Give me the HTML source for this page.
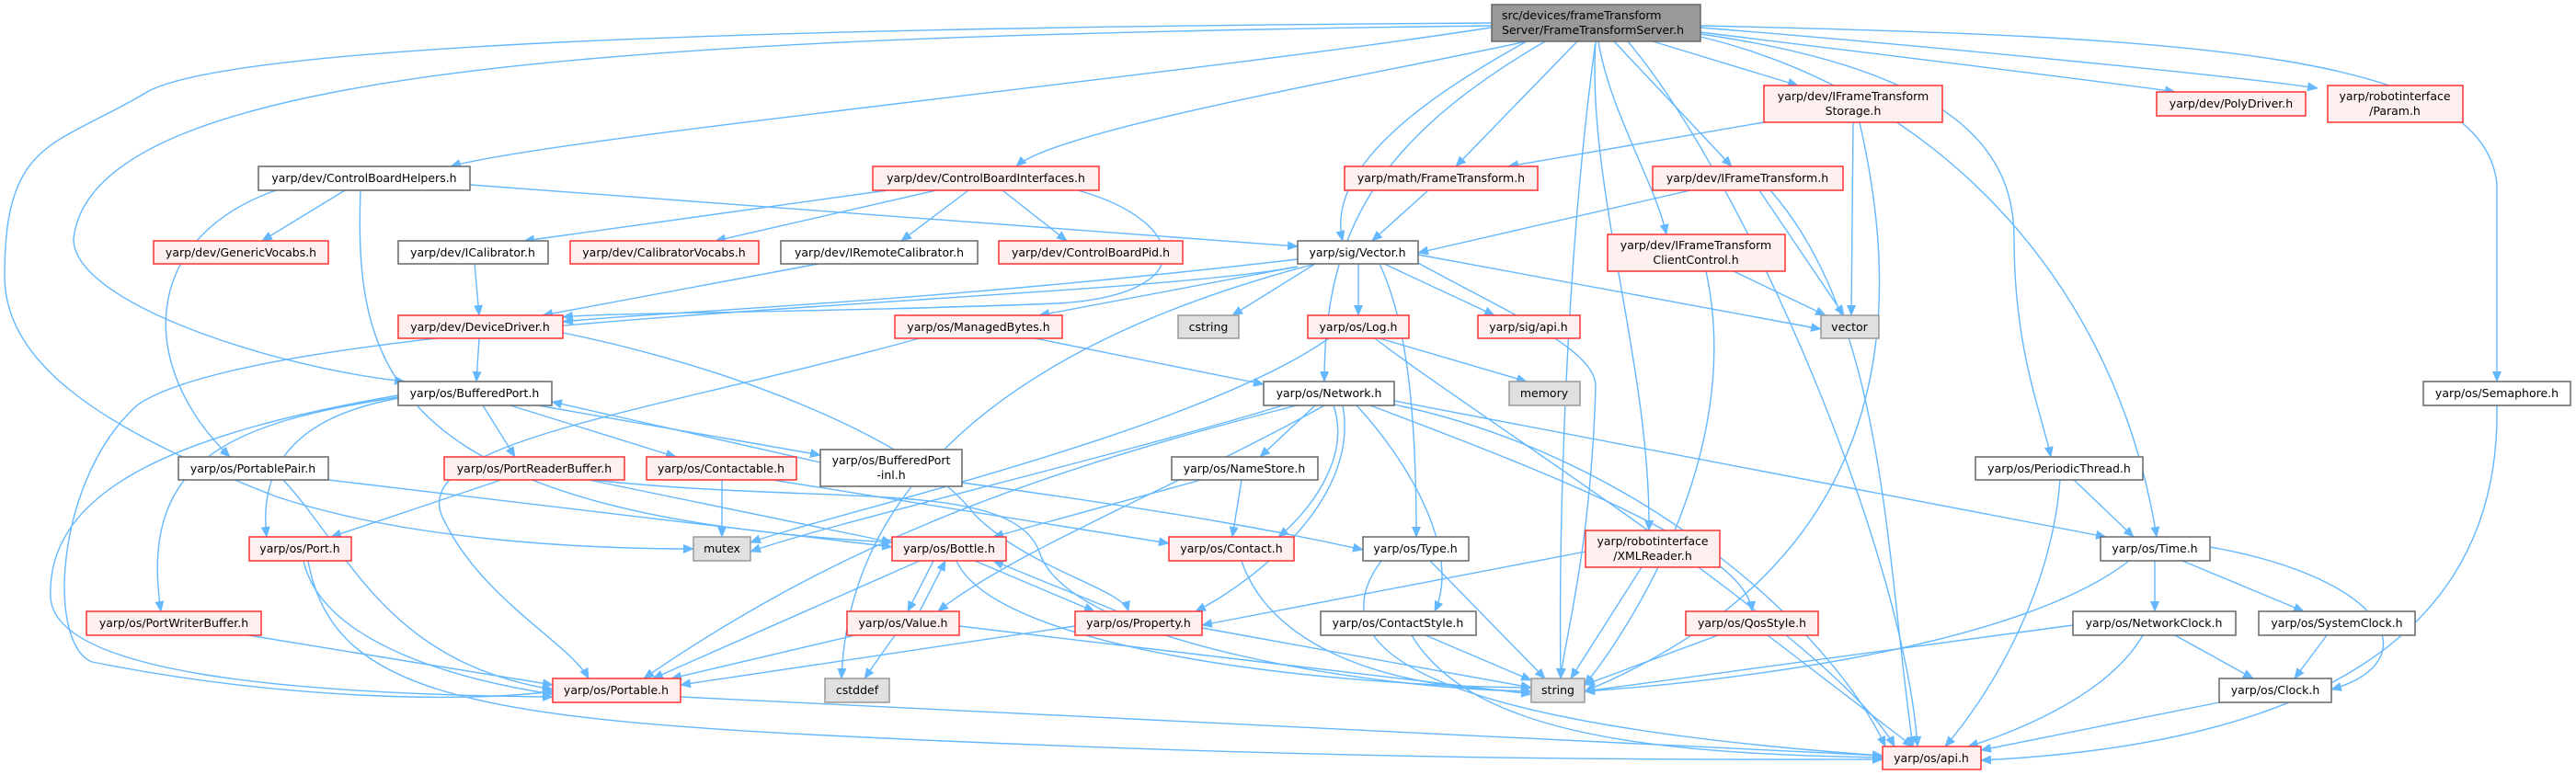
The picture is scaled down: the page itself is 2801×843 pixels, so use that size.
<!DOCTYPE html>
<html><head><meta charset="utf-8"><style>
html,body{margin:0;padding:0;background:#fff;}
svg{display:block;}
text{font-family:"DejaVu Sans","Liberation Sans",sans-serif;font-size:12.5px;fill:#000;}
.e{fill:none;stroke:#63b8ff;stroke-width:1.4;}
.r{fill:#fff0f0;stroke:#ff3030;stroke-width:1.5;}
.w{fill:#fff;stroke:#666;stroke-width:1.5;}
.g{fill:#e0e0e0;stroke:#999;stroke-width:1.5;}
.m{fill:#999;stroke:#666;stroke-width:1.5;}
</style></head><body>
<svg width="2801" height="843" viewBox="0 0 2801 843" xmlns="http://www.w3.org/2000/svg">
<defs><marker id="a" markerWidth="12" markerHeight="10" refX="11" refY="5" orient="auto" markerUnits="userSpaceOnUse"><path d="M0,0 L12,5 L0,10 z" fill="#63b8ff"/></marker></defs>
<g class="e" marker-end="url(#a)">
<path d="M1621,30 C1300,80 600,150 490,181"/>
<path d="M1660,45 C1500,80 1150,140 1105,181"/>
<path d="M1621,28 C700,40 100,70 80,260 C80,330 300,400 440,415"/>
<path d="M1621,25 C800,30 250,50 160,100 C60,160 5,150 5,300 C5,400 120,470 300,540 C450,590 650,597 754,597"/>
<path d="M1660,45 C1560,100 1440,180 1460,262"/>
<path d="M1715,45 L1583,181"/>
<path d="M1680,45 C1500,150 1440,250 1440,415"/>
<path d="M1797,45 L1955,93"/>
<path d="M1755,45 L1883,181"/>
<path d="M1738,45 C1750,120 1800,200 1812,255"/>
<path d="M1735,45 C1725,200 1795,400 1793,577"/>
<path d="M1849,35 C2050,60 2300,90 2365,100"/>
<path d="M1849,30 C2100,50 2450,85 2520,96"/>
<path d="M1849,37 C2150,80 2190,180 2190,260 C2190,380 2220,450 2230,497"/>
<path d="M1849,40 C2100,100 2300,300 2345,584"/>
<path d="M1849,28 C2400,40 2700,60 2715,200 L2715,415"/>
<path d="M1735,45 C1700,300 1695,600 1697,738"/>
<path d="M1770,45 C1900,200 2070,600 2085,812"/>
<path d="M1918,133 L1640,181"/>
<path d="M2015,133 L2013,343"/>
<path d="M2022,133 C2060,300 2090,600 1723,752"/>
<path d="M1553,207 L1492,262"/>
<path d="M1838,207 L1542,275"/>
<path d="M1913,207 L2005,343"/>
<path d="M1925,207 C2050,350 2050,600 2080,812"/>
<path d="M1885,295 L1985,343"/>
<path d="M1855,295 C1900,500 1760,700 1723,745"/>
<path d="M375,207 L285,262"/>
<path d="M300,207 C150,260 150,400 250,497"/>
<path d="M392,207 C385,400 420,560 970,590"/>
<path d="M511,201 L1411,268"/>
<path d="M965,207 L570,262"/>
<path d="M1018,207 L778,262"/>
<path d="M1053,207 L980,262"/>
<path d="M1090,207 L1160,262"/>
<path d="M1172,207 C1290,240 1310,320 1150,330 C900,340 650,340 612,345"/>
<path d="M516,287 L521,343"/>
<path d="M890,287 L590,343"/>
<path d="M521,368 L518,415"/>
<path d="M612,362 C800,400 1000,480 1060,560 C1120,620 1220,640 1227,665"/>
<path d="M1411,282 C1000,330 700,340 612,350"/>
<path d="M1411,290 L1130,343"/>
<path d="M1430,287 L1340,343"/>
<path d="M1477,287 L1477,343"/>
<path d="M1505,287 L1625,343"/>
<path d="M1542,277 L1980,358"/>
<path d="M1540,285 C1640,340 1735,380 1735,420 C1730,600 1700,700 1697,738"/>
<path d="M1411,290 C1200,330 300,340 150,440 C60,520 50,700 100,720 C300,760 500,765 601,752"/>
<path d="M1500,287 C1530,350 1540,450 1540,584"/>
<path d="M1430,287 C1000,400 920,600 915,738"/>
<path d="M1125,368 L1374,418"/>
<path d="M1000,368 C700,450 450,480 480,560 C520,650 620,700 640,738"/>
<path d="M1500,368 L1660,415"/>
<path d="M1495,368 C1600,450 2000,700 2060,812"/>
<path d="M1445,368 C1300,470 900,560 816,590"/>
<path d="M440,432 C330,450 280,500 290,584"/>
<path d="M525,441 L560,497"/>
<path d="M555,441 L735,497"/>
<path d="M585,441 L892,495"/>
<path d="M892,503 L600,437"/>
<path d="M433,432 C250,460 150,500 175,665"/>
<path d="M433,430 C200,470 50,530 55,650 C60,730 300,755 601,758"/>
<path d="M1046,525 C1300,560 1400,580 1482,598"/>
<path d="M357,522 L970,595"/>
<path d="M308,522 C380,600 420,720 601,750"/>
<path d="M545,522 L360,584"/>
<path d="M640,522 L970,590"/>
<path d="M645,522 C900,550 1100,520 1130,600 C1160,700 1500,750 1665,752"/>
<path d="M785,522 L785,584"/>
<path d="M840,522 L1271,591"/>
<path d="M330,610 C350,700 500,740 601,755"/>
<path d="M335,610 C360,750 500,780 900,800 C1500,830 1900,826 2047,826"/>
<path d="M1306,522 L1080,584"/>
<path d="M1350,522 L1340,584"/>
<path d="M1430,441 L1370,497"/>
<path d="M1450,441 C1470,500 1420,560 1390,584"/>
<path d="M1440,441 C1300,520 1100,600 1020,665"/>
<path d="M1460,441 C1480,550 1350,640 1300,665"/>
<path d="M1410,441 C1100,520 900,600 700,738"/>
<path d="M1475,441 C1530,500 1590,600 1560,665"/>
<path d="M1490,441 C1700,520 1900,600 1905,665"/>
<path d="M1516,436 L2290,584"/>
<path d="M1516,440 C1800,500 2000,700 2050,812"/>
<path d="M1395,441 C1200,500 900,570 816,600"/>
<path d="M1015,610 L987,665"/>
<path d="M1000,665 L1028,610"/>
<path d="M1060,610 L1190,665"/>
<path d="M1215,665 L1080,610"/>
<path d="M1000,610 L710,738"/>
<path d="M1040,610 C1080,700 1400,745 1665,748"/>
<path d="M930,691 L730,738"/>
<path d="M973,691 L940,738"/>
<path d="M1043,681 L1665,755"/>
<path d="M1169,681 L740,745"/>
<path d="M1307,683 L1665,748"/>
<path d="M1350,610 C1380,700 1500,750 1665,752"/>
<path d="M1555,610 L1680,738"/>
<path d="M1502,610 C1420,720 1600,790 2047,822"/>
<path d="M1724,600 L1307,680"/>
<path d="M1785,617 L1708,738"/>
<path d="M1550,691 L1665,740"/>
<path d="M1535,691 C1600,800 1800,820 2047,824"/>
<path d="M1868,691 L1723,745"/>
<path d="M1922,691 L2080,812"/>
<path d="M2255,522 L2320,584"/>
<path d="M2240,522 C2230,650 2160,760 2115,812"/>
<path d="M2315,610 C2200,700 1900,740 1723,752"/>
<path d="M2343,610 L2343,665"/>
<path d="M2373,610 L2505,665"/>
<path d="M2403,595 C2600,630 2640,720 2535,750"/>
<path d="M2254,680 L1723,752"/>
<path d="M2365,691 L2450,738"/>
<path d="M2330,691 C2290,760 2180,800 2140,812"/>
<path d="M2530,691 L2495,738"/>
<path d="M2413,764 L2154,816"/>
<path d="M270,691 L601,745"/>
<path d="M740,758 L2047,822"/>
<path d="M2715,441 C2720,700 2500,810 2154,827"/>
</g>
<g text-anchor="middle">
<rect class="m" x="1622" y="5" width="227" height="40"/>
<text x="1633" y="21" text-anchor="start">src/devices/frameTransform</text>
<text x="1633" y="37" text-anchor="start">Server/FrameTransformServer.h</text>

<rect class="w" x="281" y="181" width="230" height="26"/><text x="396" y="198">yarp/dev/ControlBoardHelpers.h</text>
<rect class="r" x="949" y="181" width="246" height="26"/><text x="1072" y="198">yarp/dev/ControlBoardInterfaces.h</text>
<rect class="r" x="1462" y="181" width="210" height="26"/><text x="1567" y="198">yarp/math/FrameTransform.h</text>
<rect class="r" x="1797" y="181" width="207" height="26"/><text x="1900" y="198">yarp/dev/IFrameTransform.h</text>
<rect class="r" x="1918" y="93" width="194" height="40"/><text x="2015" y="109">yarp/dev/IFrameTransform</text><text x="2015" y="125">Storage.h</text>
<rect class="r" x="2345" y="100" width="162" height="26"/><text x="2426" y="117">yarp/dev/PolyDriver.h</text>
<rect class="r" x="2531" y="93" width="147" height="40"/><text x="2604" y="109">yarp/robotinterface</text><text x="2604" y="125">/Param.h</text>

<rect class="r" x="167" y="262" width="190" height="25"/><text x="262" y="279">yarp/dev/GenericVocabs.h</text>
<rect class="w" x="433" y="262" width="163" height="25"/><text x="514" y="279">yarp/dev/ICalibrator.h</text>
<rect class="r" x="620" y="262" width="205" height="25"/><text x="722" y="279">yarp/dev/CalibratorVocabs.h</text>
<rect class="w" x="849" y="262" width="214" height="25"/><text x="956" y="279">yarp/dev/IRemoteCalibrator.h</text>
<rect class="r" x="1086" y="262" width="200" height="25"/><text x="1186" y="279">yarp/dev/ControlBoardPid.h</text>
<rect class="w" x="1411" y="262" width="131" height="25"/><text x="1476" y="279">yarp/sig/Vector.h</text>
<rect class="r" x="1748" y="255" width="193" height="40"/><text x="1844" y="271">yarp/dev/IFrameTransform</text><text x="1844" y="287">ClientControl.h</text>

<rect class="r" x="433" y="343" width="179" height="25"/><text x="522" y="360">yarp/dev/DeviceDriver.h</text>
<rect class="r" x="973" y="343" width="182" height="25"/><text x="1064" y="360">yarp/os/ManagedBytes.h</text>
<rect class="g" x="1281" y="343" width="66" height="25"/><text x="1314" y="360">cstring</text>
<rect class="r" x="1422" y="343" width="110" height="25"/><text x="1477" y="360">yarp/os/Log.h</text>
<rect class="r" x="1607" y="343" width="111" height="25"/><text x="1662" y="360">yarp/sig/api.h</text>
<rect class="g" x="1980" y="343" width="63" height="25"/><text x="2011" y="360">vector</text>

<rect class="w" x="433" y="415" width="167" height="26"/><text x="516" y="432">yarp/os/BufferedPort.h</text>
<rect class="w" x="1374" y="415" width="142" height="26"/><text x="1445" y="432">yarp/os/Network.h</text>
<rect class="g" x="1641" y="415" width="77" height="26"/><text x="1679" y="432">memory</text>
<rect class="w" x="2635" y="415" width="160" height="26"/><text x="2715" y="432">yarp/os/Semaphore.h</text>

<rect class="w" x="194" y="497" width="163" height="25"/><text x="275" y="514">yarp/os/PortablePair.h</text>
<rect class="r" x="483" y="497" width="196" height="25"/><text x="581" y="514">yarp/os/PortReaderBuffer.h</text>
<rect class="r" x="703" y="497" width="163" height="25"/><text x="784" y="514">yarp/os/Contactable.h</text>
<rect class="w" x="892" y="489" width="154" height="40"/><text x="969" y="505">yarp/os/BufferedPort</text><text x="969" y="521">-inl.h</text>
<rect class="w" x="1274" y="497" width="159" height="25"/><text x="1353" y="514">yarp/os/NameStore.h</text>
<rect class="w" x="2148" y="497" width="182" height="25"/><text x="2239" y="514">yarp/os/PeriodicThread.h</text>

<rect class="r" x="271" y="584" width="111" height="26"/><text x="326" y="601">yarp/os/Port.h</text>
<rect class="g" x="754" y="584" width="62" height="26"/><text x="785" y="601">mutex</text>
<rect class="r" x="970" y="584" width="124" height="26"/><text x="1032" y="601">yarp/os/Bottle.h</text>
<rect class="r" x="1271" y="584" width="136" height="26"/><text x="1339" y="601">yarp/os/Contact.h</text>
<rect class="w" x="1482" y="584" width="115" height="26"/><text x="1539" y="601">yarp/os/Type.h</text>
<rect class="r" x="1724" y="577" width="146" height="40"/><text x="1797" y="593">yarp/robotinterface</text><text x="1797" y="609">/XMLReader.h</text>
<rect class="w" x="2284" y="584" width="119" height="26"/><text x="2343" y="601">yarp/os/Time.h</text>

<rect class="r" x="94" y="665" width="190" height="26"/><text x="189" y="682">yarp/os/PortWriterBuffer.h</text>
<rect class="r" x="921" y="665" width="122" height="26"/><text x="982" y="682">yarp/os/Value.h</text>
<rect class="r" x="1169" y="665" width="138" height="26"/><text x="1238" y="682">yarp/os/Property.h</text>
<rect class="w" x="1436" y="665" width="169" height="26"/><text x="1520" y="682">yarp/os/ContactStyle.h</text>
<rect class="r" x="1833" y="665" width="144" height="26"/><text x="1905" y="682">yarp/os/QosStyle.h</text>
<rect class="w" x="2254" y="665" width="177" height="26"/><text x="2342" y="682">yarp/os/NetworkClock.h</text>
<rect class="w" x="2456" y="665" width="170" height="26"/><text x="2541" y="682">yarp/os/SystemClock.h</text>

<rect class="r" x="601" y="738" width="139" height="26"/><text x="670" y="755">yarp/os/Portable.h</text>
<rect class="g" x="897" y="738" width="70" height="26"/><text x="932" y="755">cstddef</text>
<rect class="g" x="1665" y="738" width="58" height="26"/><text x="1694" y="755">string</text>
<rect class="w" x="2413" y="738" width="122" height="26"/><text x="2474" y="755">yarp/os/Clock.h</text>

<rect class="r" x="2047" y="812" width="107" height="25"/><text x="2100" y="829">yarp/os/api.h</text>
</g>
</svg>
</body></html>
